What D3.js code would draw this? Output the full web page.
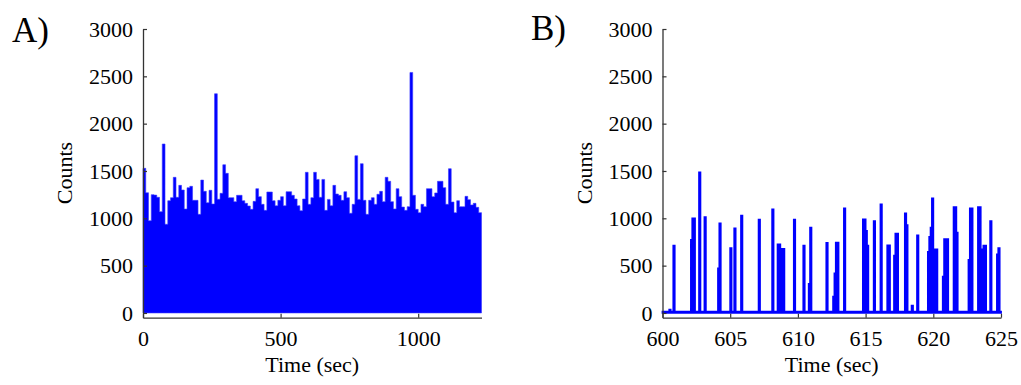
<!DOCTYPE html>
<html>
<head>
<meta charset="utf-8">
<script src="https://cdn.jsdelivr.net/npm/d3@7"></script>
<style>
  html, body { margin: 0; padding: 0; background: #fff; }
  svg text { font-family: "Liberation Serif", "Times New Roman", serif; fill: #000; }
</style>
</head>
<body>
<svg id="chart" width="1021" height="385"></svg>
<script>
// ---------------- DATA ----------------
// Panel A: photon counts per 10 s bin, 0 .. 1230 s
const histA_binWidth = 10;
const histA_counts = [
  1528,1270,975,1250,1245,1222,1070,1785,937,1186,
  1218,1433,1222,1348,1299,1098,1323,1338,1190,1190,
  1042,1404,1285,1165,1296,1151,2316,1201,1264,1566,
  1475,1218,1218,1176,1243,1243,1186,1158,1130,1095,
  1179,1313,1229,1148,1084,1278,1278,1186,1133,1190,
  1229,1133,1281,1281,1243,1204,1133,1081,1204,1486,
  1148,1218,1486,1411,1222,1411,1084,1200,1133,1348,
  1257,1243,1190,1281,1218,1053,1148,1661,1200,1577,
  1190,1042,1190,1218,1148,1254,1285,1176,1433,1391,
  1176,1099,1313,1229,1119,1084,1123,2541,1243,1095,
  1060,1148,1123,1313,1313,1229,1268,1391,1391,1324,
  1148,1524,1172,1060,1186,1123,1123,1232,1197,1141,
  1158,1116,1060
];
const xTicksA = [0, 500, 1000];

// Panel B: 600-625 s at 0.1 s bins; background level plus bursts
const histB_binWidth = 0.1;
const histB_background = 15;
const burstStart = [600.5, 600.8, 602.1, 602.7, 603.1, 604.1, 605.0, 605.3, 605.8, 607.1,
  608.1, 608.5, 609.7, 610.4, 610.8, 612.1, 612.6, 613.4, 614.8, 615.6,
  616.1, 616.6, 617.1, 617.9, 618.4, 618.8, 619.6, 620.7, 621.5, 622.6,
  623.3, 624.2, 624.7];
const burstCounts = [[35],[711],[771,1000,1000],[1485],[1011],[472,947],[686],[894],[1028],[985],
  [1095],[725,725,330,676,676],[985],[711],[306,901],[739],[172,419,743,743],[1105],[989,989,866,711],[971],
  [1148],[715,715],[605,838,838],[1053,929],[77],[820],[644,803,901,1211,672,672,672],[384,781,781,781],[1119,1119,848],[560,1105,1105],
  [1119,1119,672,672,711,711],[971],[620,686]];
const dipStart = [601.1, 602.9, 604.4, 606.3, 606.5, 609.1, 610.1, 614.2, 616.3, 617.5, 619.4, 624.1];
const dipCounts = [0,0,0,0,0,0,0,0,0,0,0,0];
const xTicksB = [600, 605, 610, 615, 620, 625];

const yTicks = [0, 500, 1000, 1500, 2000, 2500, 3000];
const yDomain = [-50, 3000];

// ---------------- DRAW ----------------
const svg = d3.select("#chart");
const BLUE = "#0000ff";
const FS = 22;

function panel(opts) {
  const g = svg.append("g");
  const x = d3.scaleLinear().domain(opts.xDomain).range([opts.left, opts.right]);
  const y = d3.scaleLinear().domain(yDomain).range([opts.bottom, opts.top]);

  opts.drawData(g, x, y);

  const yAxis = g.append("g")
    .attr("transform", `translate(${opts.left},0)`)
    .call(d3.axisLeft(y).tickValues(yTicks).tickFormat(d3.format("d")).tickSizeInner(-4).tickSizeOuter(0).tickPadding(10));
  const xAxis = g.append("g")
    .attr("transform", `translate(0,${opts.bottom})`)
    .call(d3.axisBottom(x).tickValues(opts.xTicks).tickFormat(d3.format("d")).tickSizeInner(-4).tickSizeOuter(0).tickPadding(13));
  [yAxis, xAxis].forEach(a => {
    a.selectAll("path.domain").attr("stroke", "#333").attr("stroke-width", 1.3);
    a.selectAll(".tick line").attr("stroke", "#333").attr("stroke-width", 1.2);
    a.selectAll(".tick text").style("font-family", '"Liberation Serif", serif')
      .style("font-size", FS + "px").attr("fill", "#000");
  });

  g.append("text")
    .attr("x", (opts.left + opts.right) / 2).attr("y", 372)
    .attr("text-anchor", "middle").style("font-size", FS + "px")
    .text("Time (sec)");
  g.append("text")
    .attr("transform", `translate(${opts.left - 71},173) rotate(-90)`)
    .attr("text-anchor", "middle").style("font-size", FS + "px")
    .text("Counts");
  g.append("text")
    .attr("x", opts.labelX).attr("y", opts.labelY)
    .style("font-size", "35px")
    .text(opts.label);
}

// Panel A
panel({
  left: 143, right: 481.5, top: 29, bottom: 317.7,
  xDomain: [0, 1230], xTicks: xTicksA,
  label: "A)", labelX: 12, labelY: 42,
  drawData: (g, x, y) => {
    const pts = histA_counts.map((c, i) => [i * histA_binWidth, c]);
    pts.push([histA_counts.length * histA_binWidth, histA_counts[histA_counts.length - 1]]);
    const area = d3.area()
      .x(d => x(d[0])).y0(y(0)).y1(d => y(d[1]))
      .curve(d3.curveStepAfter);
    g.append("path").datum(pts)
      .attr("d", area).attr("fill", BLUE)
      .attr("stroke", "#3a3aff").attr("stroke-width", 0.6);
  }
});

// Panel B
panel({
  left: 662.5, right: 1001, top: 29, bottom: 317.7,
  xDomain: [600, 625], xTicks: xTicksB,
  label: "B)", labelX: 531, labelY: 40,
  drawData: (g, x, y) => {
    const events = [];
    burstStart.forEach((t, i) => events.push({ t, vals: burstCounts[i] }));
    dipStart.forEach((t, i) => events.push({ t, vals: [dipCounts[i]] }));
    events.sort((a, b) => a.t - b.t);
    const pts = [[600, histB_background]];
    events.forEach(e => {
      e.vals.forEach((v, k) => pts.push([e.t + k * histB_binWidth, v]));
      pts.push([e.t + e.vals.length * histB_binWidth, histB_background]);
    });
    pts.push([625, histB_background]);
    const area = d3.area().x(d => x(d[0])).y0(y(0)).y1(d => y(d[1])).curve(d3.curveStepAfter);
    g.append("path").datum(pts)
      .attr("d", area).attr("fill", BLUE)
      .attr("stroke", BLUE).attr("stroke-width", 1.8)
      .attr("stroke-linejoin", "miter");
  }
});
</script>
</body>
</html>
